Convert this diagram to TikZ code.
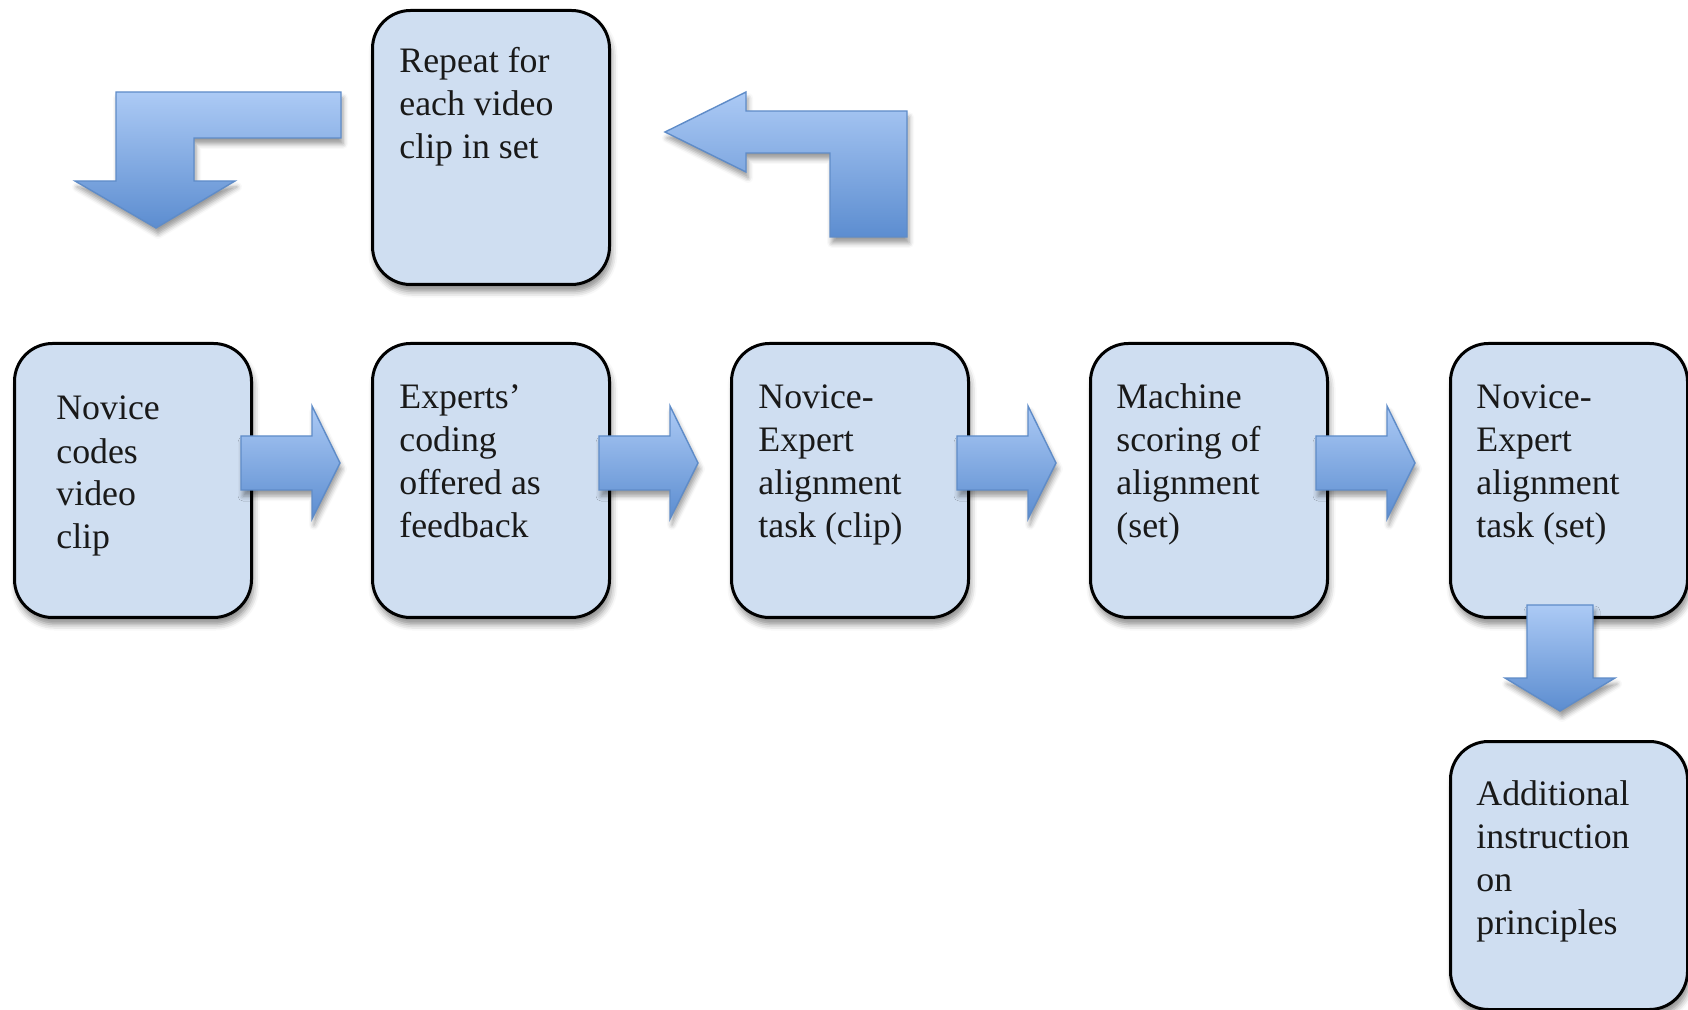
\documentclass[tikz,border=0pt]{standalone}
\usepackage{fontspec}
\setmainfont{Liberation Serif}
\usetikzlibrary{shadows.blur}
\definecolor{boxfill}{RGB}{207,222,241}
\definecolor{arrtop}{RGB}{172,202,245}
\definecolor{arrbot}{RGB}{92,141,208}
\definecolor{arredge}{RGB}{95,140,200}
\begin{document}
\begin{tikzpicture}[x=0.5pt,y=-0.5pt,
  box/.style={draw=black, line width=1.5pt, fill=boxfill, rounded corners=19pt,
    anchor=north west, inner sep=0pt, minimum width=118.5pt, minimum height=137pt,
    blur shadow={shadow xshift=1pt, shadow yshift=-3.5pt, shadow blur radius=3pt, shadow opacity=45}},
  txt/.style={anchor=base west, align=left, inner sep=0pt, text=black!90,
    font=\fontsize{17.9}{21.5}\selectfont},
  blockarrow/.style={draw=arredge, line width=0.7pt, top color=arrtop, bottom color=arrbot,
    blur shadow={shadow xshift=1pt, shadow yshift=-3pt, shadow blur radius=2.5pt, shadow opacity=40}}]
\useasboundingbox (0,0) rectangle (1688,1010);

% boxes
\node[box] (rep) at (371,9) {};
\node[box] (b1) at (13,342) {};
\node[box] (b2) at (371,342) {};
\node[box] (b3) at (730,342) {};
\node[box] (b4) at (1089,342) {};
\node[box] (b5) at (1449,342) {};
\node[box, minimum height=134pt] (b6) at (1449,740) {};

% texts (anchored at the baseline of their last line)
\node[txt] (trep) at (399,159) {Repeat for\\each video\\clip in set};
\node[txt] (t1) at (56,549) {Novice\\codes\\video\\clip};
\node[txt] (t2) at (399,538) {Experts’\\coding\\offered as\\feedback};
\node[txt] (t3) at (758,538) {Novice-\\Expert\\alignment\\task (clip)};
\node[txt] (t4) at (1116,538) {Machine\\scoring of\\alignment\\(set)};
\node[txt] (t5) at (1476,538) {Novice-\\Expert\\alignment\\task (set)};
\node[txt] (t6) at (1476,934) {Additional\\instruction\\on\\principles};

% right block arrows between boxes
\foreach \x in {241,599,957,1316}{
  \draw[blockarrow] (\x,436) -- ++(71,0) -- ++(0,-30) -- ++(28,57) -- ++(-28,56)
     -- ++(0,-29) -- ++(-71,0) -- cycle;
}

% down arrow from b5 to b6
\draw[blockarrow] (1527,605) -- (1593,605) -- (1593,678) -- (1615,678) -- (1560,711)
   -- (1505,678) -- (1527,678) -- cycle;

% top-left L arrow
\draw[blockarrow] (341,92) -- (116,92) -- (116,181) -- (75,181) -- (156,228)
   -- (235,181) -- (194,181) -- (194,138) -- (341,138) -- cycle;

% top-right L arrow
\draw[blockarrow] (665,132) -- (746,92) -- (746,111) -- (907,111) -- (907,237)
   -- (830,237) -- (830,153) -- (746,153) -- (746,172) -- cycle;
\end{tikzpicture}
\end{document}
